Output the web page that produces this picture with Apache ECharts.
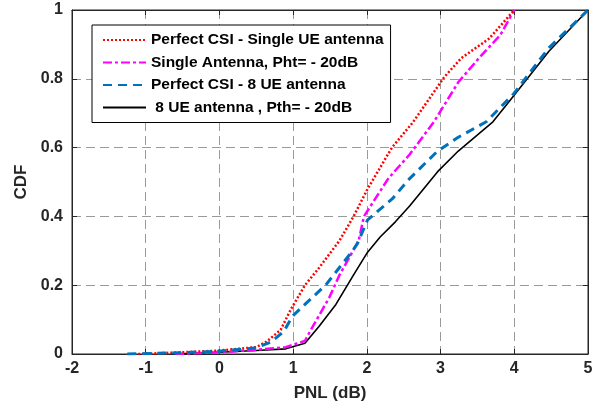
<!DOCTYPE html>
<html><head><meta charset="utf-8">
<script src="https://cdn.jsdelivr.net/npm/echarts@6/dist/echarts.min.js"></script>
<style>html,body{margin:0;padding:0;background:#fff}#c{width:608px;height:416px}</style>
</head><body><div id="c"></div>
<script>
const seriesNames = ['Perfect CSI - Single UE antenna', 'Single Antenna, Pht= - 20dB', 'Perfect CSI - 8 UE antenna', ' 8 UE antenna , Pth= - 20dB'];
const xTicks = [-2, -1, 0, 1, 2, 3, 4, 5];
const yTicks = [0, 0.2, 0.4, 0.6, 0.8, 1];

const redX = [-1.1, -0.5, 0, 0.5, 0.64, 0.83, 0.97, 1.16, 1.35, 1.63, 1.82, 2.01, 2.34, 2.63, 3.05, 3.28, 3.66, 4.0];
const redY = [0, 0.005, 0.01, 0.02, 0.036, 0.07, 0.13, 0.2, 0.25, 0.33, 0.4, 0.48, 0.6, 0.675, 0.805, 0.86, 0.917, 1.0];

const magX = [-0.6, 0, 0.5, 0.9, 1.16, 1.23, 1.49, 1.63, 1.89, 1.96, 2.29, 2.58, 2.91, 3.24, 3.52, 3.81, 4.0];
const magY = [0, 0.005, 0.012, 0.02, 0.038, 0.066, 0.164, 0.23, 0.33, 0.4, 0.51, 0.58, 0.675, 0.79, 0.86, 0.927, 1.0];

const blueX = [-1.25, -0.5, 0, 0.5, 0.7, 0.875, 0.99, 1.16, 1.44, 1.77, 1.87, 2.01, 2.34, 2.58, 2.96, 3.24, 3.62, 3.99, 4.47, 5.0];
const blueY = [0, 0.004, 0.008, 0.018, 0.035, 0.066, 0.11, 0.144, 0.2, 0.29, 0.32, 0.39, 0.45, 0.51, 0.59, 0.63, 0.675, 0.756, 0.89, 1.0];

const blackX = [-0.64, 0, 0.5, 0.9, 1.16, 1.35, 1.58, 1.82, 2.01, 2.18, 2.39, 2.58, 2.96, 3.24, 3.71, 3.99, 4.47, 5.0];
const blackY = [0, 0.005, 0.01, 0.015, 0.031, 0.08, 0.144, 0.23, 0.296, 0.34, 0.385, 0.43, 0.53, 0.59, 0.675, 0.75, 0.88, 1.0];

const zip = (xs, ys) => xs.map((x, i) => [x, ys[i]]);
const font = 'Liberation Sans, Arial, sans-serif';
const axisCol = '#262626';

const chart = echarts.init(document.getElementById('c'), null, {renderer: 'canvas'});
const baseX = {type: 'value', min: -2, max: 5, interval: 1};
const baseY = {type: 'value', min: 0, max: 1, interval: 0.2};
chart.setOption({
  animation: false,
  backgroundColor: '#fff',
  grid: {left: 72, right: 20, top: 10, bottom: 62, show: true, borderColor: axisCol, borderWidth: 1},
  legend: {
    orient: 'vertical', left: 92, top: 25,
    backgroundColor: '#fff', borderColor: '#000', borderWidth: 1,
    padding: [7, 7, 7, 10], itemGap: 6.5, itemWidth: 43, itemHeight: 14,
    itemStyle: {opacity: 0},
    textStyle: {fontFamily: font, fontWeight: 'bold', fontSize: 15.5, color: '#000'},
    data: seriesNames
  },
  xAxis: [
    Object.assign({}, baseX, {
      position: 'bottom',
      name: 'PNL (dB)', nameLocation: 'middle', nameGap: 31,
      nameTextStyle: {fontFamily: font, fontWeight: 'bold', fontSize: 17, color: axisCol},
      axisLine: {show: true, onZero: false, lineStyle: {color: axisCol}},
      axisTick: {show: true, inside: true, length: 5, lineStyle: {color: axisCol}},
      axisLabel: {fontFamily: font, fontWeight: 'bold', fontSize: 16, color: axisCol, margin: 7,
        formatter: v => xTicks.includes(v) ? String(v) : ''},
      splitLine: {show: true, lineStyle: {color: '#9a9a9a', type: [9, 5], width: 1}}
    }),
    Object.assign({}, baseX, {
      position: 'top',
      axisLine: {show: true, onZero: false, lineStyle: {color: axisCol}},
      axisTick: {show: true, inside: true, length: 5, lineStyle: {color: axisCol}},
      axisLabel: {show: false}, splitLine: {show: false}
    })
  ],
  yAxis: [
    Object.assign({}, baseY, {
      position: 'left',
      name: 'CDF', nameLocation: 'middle', nameGap: 41,
      nameTextStyle: {fontFamily: font, fontWeight: 'bold', fontSize: 17, color: axisCol},
      axisLine: {show: true, onZero: false, lineStyle: {color: axisCol}},
      axisTick: {show: true, inside: true, length: 5, lineStyle: {color: axisCol}},
      axisLabel: {fontFamily: font, fontWeight: 'bold', fontSize: 16, color: axisCol, margin: 9,
        formatter: v => { const t = yTicks.find(k => Math.abs(k - v) < 1e-9); return t === undefined ? '' : String(t); }},
      splitLine: {show: true, lineStyle: {color: '#9a9a9a', type: [9, 5], width: 1}}
    }),
    Object.assign({}, baseY, {
      position: 'right',
      axisLine: {show: true, onZero: false, lineStyle: {color: axisCol}},
      axisTick: {show: true, inside: true, length: 5, lineStyle: {color: axisCol}},
      axisLabel: {show: false}, splitLine: {show: false}
    })
  ],
  series: [
    {name: seriesNames[0], type: 'line', data: zip(redX, redY), symbol: 'none', z: 4,
     itemStyle: {color: '#ff0000'}, lineStyle: {color: '#ff0000', width: 2.5, type: [2, 2]}},
    {name: seriesNames[1], type: 'line', data: zip(magX, magY), symbol: 'none', z: 3,
     itemStyle: {color: '#ff00ff'}, lineStyle: {color: '#ff00ff', width: 2.5, type: [9, 3, 3, 3]}},
    {name: seriesNames[2], type: 'line', data: zip(blueX, blueY), symbol: 'none', z: 5,
     itemStyle: {color: '#0072bd'}, lineStyle: {color: '#0072bd', width: 3, type: [9, 6]}},
    {name: seriesNames[3], type: 'line', data: zip(blackX, blackY), symbol: 'none', z: 2,
     itemStyle: {color: '#000'}, lineStyle: {color: '#000', width: 1.6, type: 'solid'}}
  ]
});
</script></body></html>
